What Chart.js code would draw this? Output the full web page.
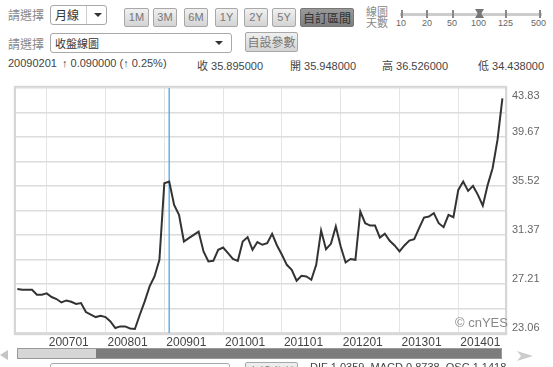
<!DOCTYPE html>
<html lang="zh-Hant">
<head>
<meta charset="UTF-8">
<title>月線 收盤線圖</title>
<script src="https://cdn.jsdelivr.net/npm/chart.js@4.4.0/dist/chart.umd.min.js"></script>
<style>
  body { margin:0; width:553px; height:367px; overflow:hidden; background:#fff; position:relative;
         font-family: Arial, "Liberation Sans", "Noto Sans CJK TC", sans-serif; color:#444; }
  .abs { position:absolute; white-space:nowrap; }
  .cjk { font-family:"Noto Sans CJK TC", sans-serif; }
  .lbl { font-size:12px; color:#888; }
  .sel { border:1px solid #a9a9a9; border-radius:3px; background:#fff; height:20px; box-sizing:border-box; }
  .sel .t { position:absolute; left:4px; top:1px; font-size:12px; color:#333; line-height:16px; }
  .sel .sep { position:absolute; top:0; bottom:0; width:1px; background:#ccc; }
  .arr { position:absolute; top:7px; width:0; height:0; border-left:4px solid transparent;
         border-right:4px solid transparent; border-top:4px solid #333; }
  .btn { height:19px; box-sizing:border-box; border:1px solid #a8a8a8; border-radius:2px;
         background:linear-gradient(#f0f0f0,#d4d4d4); font-size:11px; color:#777; text-align:center; line-height:17px; }
  .btn.on { background:linear-gradient(#9a9a9a,#7e7e7e); color:#333; border-color:#777; }
  .info { font-size:11px; color:#444; top:57px; }
  #frame { position:absolute; left:14px; top:86px; width:493px; height:249px; box-sizing:border-box;
           border:2px solid #d6d6d6; box-shadow:0 0 2px #e6e6e6; }
  #wrap { position:absolute; left:0; top:80px; width:553px; height:272px; }
</style>
</head>
<body>
  <!-- row 1 -->
  <div class="abs lbl cjk" style="left:8px;top:6px;">請選擇</div>
  <div class="abs sel" style="left:50px;top:5px;width:57px;">
    <span class="t cjk">月線</span><span class="sep" style="left:35px;"></span><span class="arr" style="left:43px;"></span>
  </div>
  <div class="abs btn" style="left:124px;top:8px;width:25px;">1M</div>
  <div class="abs btn" style="left:153px;top:8px;width:24px;">3M</div>
  <div class="abs btn" style="left:184px;top:8px;width:24px;">6M</div>
  <div class="abs btn" style="left:215px;top:8px;width:23px;">1Y</div>
  <div class="abs btn" style="left:244px;top:8px;width:24px;">2Y</div>
  <div class="abs btn" style="left:272px;top:8px;width:24px;">5Y</div>
  <div class="abs btn on cjk" style="left:300px;top:8px;width:54px;font-size:12px;">自訂區間</div>
  <div class="abs cjk" style="left:366px;top:6px;font-size:11px;line-height:11px;color:#888;">線圖<br>天數</div>
  <div class="abs" style="left:400px;top:13px;width:142px;height:3px;background:#ccc;"></div>
  <div class="abs" style="left:401px;top:10px;width:2px;height:8px;background:#888;"></div>
  <div class="abs" style="left:426px;top:10px;width:2px;height:8px;background:#888;"></div>
  <div class="abs" style="left:452px;top:10px;width:2px;height:8px;background:#888;"></div>
  <div class="abs" style="left:505px;top:10px;width:2px;height:8px;background:#888;"></div>
  <div class="abs" style="left:539px;top:10px;width:2px;height:8px;background:#888;"></div>
  <div class="abs" style="left:475px;top:9px;width:9px;height:9px;background:#777;clip-path:polygon(0 0,100% 0,70% 50%,100% 100%,0 100%,30% 50%);"></div>
  <div class="abs" style="left:396px;top:18px;font-size:9px;color:#666;">10</div>
  <div class="abs" style="left:422px;top:18px;font-size:9px;color:#666;">20</div>
  <div class="abs" style="left:447px;top:18px;font-size:9px;color:#666;">50</div>
  <div class="abs" style="left:471px;top:18px;font-size:9px;color:#666;">100</div>
  <div class="abs" style="left:498px;top:18px;font-size:9px;color:#666;">125</div>
  <div class="abs" style="left:531px;top:18px;font-size:9px;color:#666;">500</div>

  <!-- row 2 -->
  <div class="abs lbl cjk" style="left:8px;top:35px;">請選擇</div>
  <div class="abs sel" style="left:50px;top:33px;width:182px;">
    <span class="t cjk" style="font-size:11px;">收盤線圖</span><span class="arr" style="left:164px;"></span>
  </div>
  <div class="abs btn cjk" style="left:245px;top:32px;width:53px;height:20px;font-size:12px;line-height:18px;">自設參數</div>

  <!-- row 3 -->
  <div class="abs info" style="left:8px;">20090201</div>
  <div class="abs info" style="left:62px;">↑ 0.090000 (↑ 0.25%)</div>
  <div class="abs info" style="left:197px;"><span class="cjk">收</span> 35.895000</div>
  <div class="abs info" style="left:290px;"><span class="cjk">開</span> 35.948000</div>
  <div class="abs info" style="left:382px;"><span class="cjk">高</span> 36.526000</div>
  <div class="abs info" style="left:478px;"><span class="cjk">低</span> 34.438000</div>

  <div id="frame"></div>
  <div id="wrap"><canvas id="c"></canvas></div>
  <div class="abs" style="left:455px;top:315px;font-size:13px;color:#8a8a8a;">© cnYES</div>

  <!-- navigator -->
  <div class="abs" style="left:0;top:350px;width:8px;height:10px;background:#c4c4c4;clip-path:polygon(0 50%,100% 0,100% 100%);"></div>
  <div class="abs" style="left:17px;top:348px;width:485px;height:11px;box-sizing:border-box;border:1px solid #999;background:#7c7c7c;"></div>
  <div class="abs" style="left:18px;top:349px;width:78px;height:9px;background:#d6d6d6;"></div>
  <div class="abs" style="left:517px;top:351px;width:16px;height:10px;background:#ccc;clip-path:polygon(0 0,100% 50%,0 100%,25% 50%);"></div>

  <!-- row below (cut) -->
  <div class="abs sel" style="left:50px;top:363px;width:180px;"></div>
  <div class="abs btn cjk" style="left:245px;top:362px;width:53px;height:20px;font-size:12px;">自設參數</div>
  <div class="abs info" style="left:310px;top:361px;">DIF 1.0359&nbsp;&nbsp;MACD 0.8738&nbsp;&nbsp;OSC 1.1418</div>

<script>
  // monthly closes, 200607 .. 201410 (100 points)
  const startYear = 2006;
  const startMonth = 7;
  const closes = [
    26.79, 26.73, 26.73, 26.73, 26.30, 26.30, 26.42, 26.11, 25.94, 25.65,
    25.82, 25.71, 25.52, 25.60, 24.84, 24.61, 24.41, 24.52, 24.41, 24.04,
    23.48, 23.62, 23.62, 23.45, 23.40, 24.61, 25.74, 27.01, 27.85, 29.27,
    35.76, 35.895, 33.92, 33.08, 30.82, 31.10, 31.38, 31.66, 29.97, 29.12,
    29.18, 30.11, 30.31, 29.83, 29.35, 29.18, 30.82, 31.19, 30.11, 30.77,
    30.54, 30.68, 31.47, 30.48, 29.69, 28.84, 28.42, 27.49, 27.91, 27.85,
    27.57, 28.84, 31.75, 30.17, 30.62, 32.09, 30.39, 29.04, 29.33, 29.27,
    33.36, 32.37, 32.17, 32.17, 31.15, 31.47, 30.88, 30.48, 29.97, 30.48,
    30.90, 31.02, 31.95, 32.85, 32.93, 33.22, 32.37, 32.03, 33.08, 32.88,
    35.19, 35.90, 35.11, 35.53, 34.77, 33.86, 35.62, 37.03, 39.43, 42.96
  ];
  const yLabels = ['23.06', '27.21', '31.37', '35.52', '39.67', '43.83'];
  const yMin = 23.06;
  const yMax = 43.83;
  const selectedMonth = '200902';

  const months = closes.map((_, i) => {
    const m = startMonth - 1 + i;
    return String(startYear + Math.floor(m / 12)) + String(m % 12 + 1).padStart(2, '0');
  });
  const janIdx = months.map((m, i) => m.endsWith('01') ? i : -1).filter(i => i >= 0);
  const selIdx = months.indexOf(selectedMonth);

  new Chart(document.getElementById('c'), {
    type: 'line',
    data: {
      datasets: [{
        data: closes.map((v, i) => ({ x: i, y: v })),
        borderColor: '#333',
        borderWidth: 2,
        pointRadius: 0,
        tension: 0
      }, {
        data: [{ x: selIdx, y: yMin }, { x: selIdx, y: yMax }],
        borderColor: '#5fb3ee',
        borderWidth: 1.5,
        pointRadius: 0
      }]
    },
    options: {
      responsive: true,
      maintainAspectRatio: false,
      animation: false,
      layout: { padding: { top: 8, left: 16, right: 0, bottom: 0 } },
      plugins: { legend: { display: false }, tooltip: { enabled: false } },
      scales: {
        x: {
          type: 'linear',
          min: -0.27,
          max: 99.53,
          afterBuildTicks: axis => { axis.ticks = janIdx.map(v => ({ value: v })); },
          afterFit: s => { s.height = 19; s.paddingLeft = 0; s.paddingRight = 0; },
          grid: { color: '#e4e4e4', lineWidth: 1, drawTicks: false },
          border: { display: false },
          ticks: {
            autoSkip: false,
            maxRotation: 0,
            align: 'start',
            labelOffset: 2,
            padding: 2,
            color: '#444',
            font: { family: 'Arial, "Liberation Sans", sans-serif', size: 12 },
            callback: v => months[v]
          }
        },
        y: {
          position: 'right',
          min: yMin,
          max: yMax,
          afterBuildTicks: axis => {
            axis.ticks = Array.from({ length: 11 }, (_, k) => ({ value: yMin + k * (yMax - yMin) / 10 }));
          },
          afterFit: s => { s.width = 48; s.paddingTop = 0; s.paddingBottom = 0; },
          grid: { color: '#dcdcdc', lineWidth: 1.5, drawTicks: false },
          border: { display: false },
          ticks: {
            padding: 7,
            labelOffset: -5,
            color: '#666',
            autoSkip: false,
            font: { family: 'Arial, "Liberation Sans", sans-serif', size: 11 },
            callback: (v, k) => k % 2 ? '' : (k === 10 ? ['', '', yLabels[5]] : yLabels[k / 2])
          }
        }
      }
    }
  });
</script>
</body>
</html>
